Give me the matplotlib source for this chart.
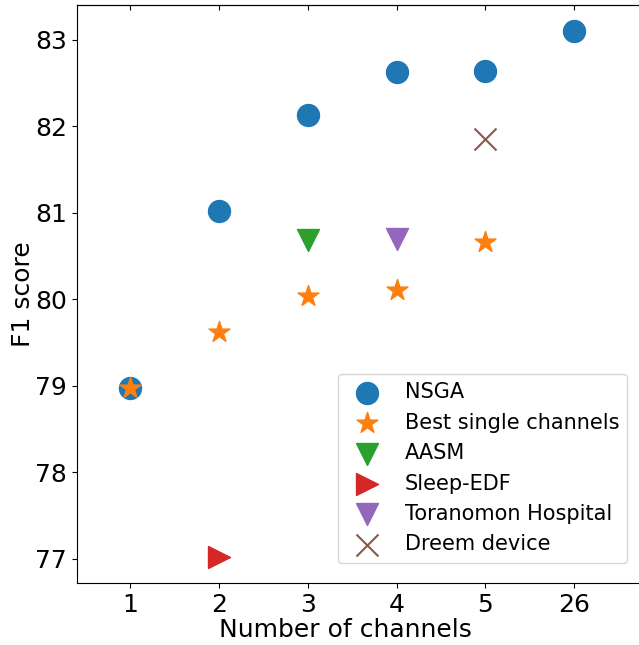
import numpy as np
import matplotlib
matplotlib.use('Agg')
import matplotlib.pyplot as plt

# channel counts shown on the x axis (categorical positions)
channel_labels = ['1', '2', '3', '4', '5', '26']

nsga_f1 = [78.97, 81.02, 82.13, 82.63, 82.64, 83.10]
best_single_f1 = [78.97, 79.62, 80.04, 80.11, 80.66]

aasm_idx, aasm_f1 = [2], [80.68]
sleepedf_idx, sleepedf_f1 = [1], [77.02]
toranomon_idx, toranomon_f1 = [3], [80.69]
dreem_idx, dreem_f1 = [4], [81.85]

fig = plt.figure(figsize=(6.39, 6.45), dpi=100)
ax = fig.add_axes([0.1200, 0.0957, 0.8830, 0.8966])

s = 250
ax.scatter(np.arange(len(nsga_f1)), nsga_f1, s=s, marker='o', color='C0', label='NSGA')
ax.scatter(np.arange(len(best_single_f1)), best_single_f1, s=s, marker='*', color='C1',
           label='Best single channels')
ax.scatter(aasm_idx, aasm_f1, s=s, marker='v', color='C2', label='AASM')
ax.scatter(sleepedf_idx, sleepedf_f1, s=s, marker='>', color='C3', label='Sleep-EDF')
ax.scatter(toranomon_idx, toranomon_f1, s=s, marker='v', color='C4', label='Toranomon Hospital')
ax.scatter(dreem_idx, dreem_f1, s=s, marker='x', color='C5', label='Dreem device')

ax.set_xticks(np.arange(len(channel_labels)))
ax.set_xticklabels(channel_labels)
ax.set_xlim(-0.6, 5.75)
ax.set_ylim(76.716, 83.40)
ax.set_yticks([77, 78, 79, 80, 81, 82, 83])
ax.tick_params(labelsize=18)
ax.set_xlabel('Number of channels', fontsize=18)
ax.xaxis.set_label_coords(0.4768, -0.06)
ax.set_ylabel('F1 score', fontsize=18, labelpad=0)

top = ax.secondary_xaxis('top')
top.set_xticks(np.arange(len(channel_labels)))
top.tick_params(direction='in', labeltop=False)

ax.legend(loc='lower right', bbox_to_anchor=(0.9762, 0.0356), borderaxespad=0,
          fontsize=15, labelspacing=0.5)

plt.savefig('out.png', dpi=100)
